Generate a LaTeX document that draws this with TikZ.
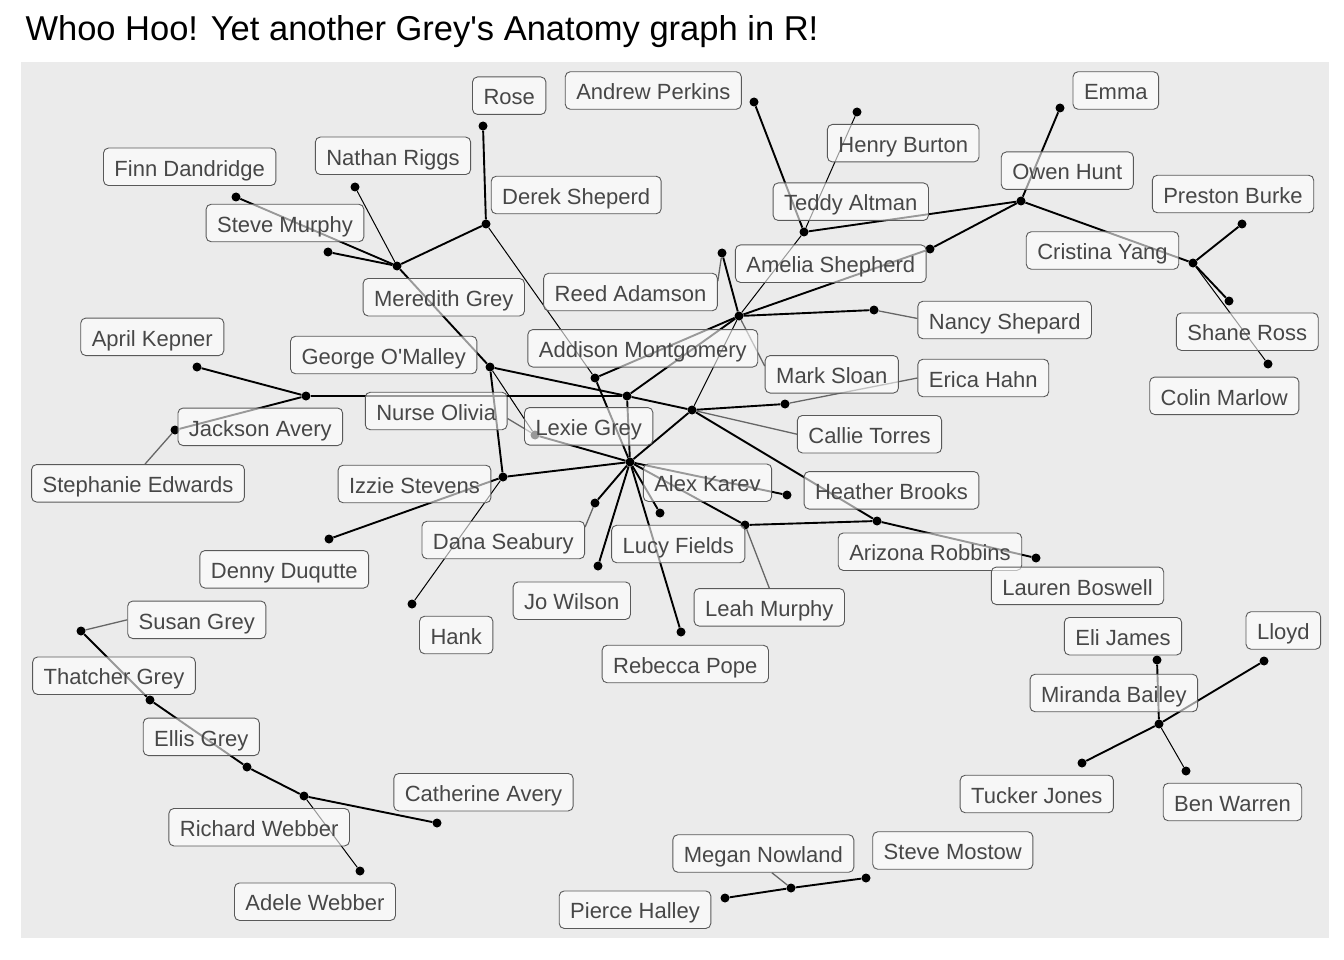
\documentclass[tikz,border=0pt]{standalone}
\usepackage{fontspec}
\setmainfont{Liberation Sans}
\usetikzlibrary{positioning}
\tikzset{
  castpt/.style={circle,fill=black,inner sep=0pt,minimum size=9pt},
  castlabel/.style={rectangle,rounded corners=5pt,draw=black!65,line width=0.9pt,fill=white,fill opacity=0.6,text opacity=1,text=black!72,font=\fontsize{22}{26}\selectfont,inner xsep=11pt,inner ysep=8.5pt,text height=19.5pt,text depth=1pt},
  tie/.style={line width=1.9pt,black},
  tiethin/.style={line width=1pt,black},
  leader/.style={line width=1.3pt,black!60},
}
\pgfdeclarelayer{panel}
\pgfdeclarelayer{back}
\pgfsetlayers{panel,back,main}
\definecolor{panelgrey}{HTML}{EBEBEB}

\begin{document}
\begin{tikzpicture}[x=1pt,y=-1pt]
  \useasboundingbox (0,0) rectangle (1344,960);
  \begin{pgfonlayer}{panel}
    \fill[white] (0,0) rectangle (1344,960);
    \fill[panelgrey] (21,62) rectangle (1329,938);
  \end{pgfonlayer}
  \node[anchor=base west,font=\fontsize{34.5}{40}\selectfont] (title) at (22,41) {Whoo Hoo! Yet another Grey\textquotesingle s Anatomy graph in R!};
  % cast members
  \foreach \n/\x/\y in {finn/236/197, nathan/355/187, murphy/328/252, meredith/397/266,
      rose/483/126, derek/486/224, andrew/754/102, henry/857/112, teddy/804/232,
      emma/1060/108, owen/1021/201, amelia/930/249, reed/722/253, mark/739/316,
      nancy/874/310, cristina/1193/263, preston/1242/224, shane/1229/301, colin/1268/364,
      april/197/367, jackson/306/396, stephanie/175/430, george/490/367, addison/595/378,
      lexie/627/396, callie/692/410, erica/785/404, alex/630/462, olivia/535/435,
      izzie/503/477, denny/329/539, hank/412/604, dana/595/503, jo/598/566, lucy/660/513,
      rebecca/681/632, heather/787/495, leah/745/525, arizona/877/521, lauren/1036/558,
      susan/81/631, thatcher/150/700, ellis/247/767, richard/304/796, catherine/437/823,
      adele/360/871, eli/1157/660, lloyd/1264/661, miranda/1159/724, tucker/1082/763,
      ben/1186/771, pierce/725/898, megan/791/888, mostow/866/878}
    \node[castpt] (\n) at (\x,\y) {};
  % names
  \foreach \n/\x/\y/\t in {rose/509.2/95.7/Rose, andrew/653.3/90.5/Andrew Perkins,
      emma/1115.8/90.5/Emma, henry/903.2/143.2/Henry Burton, finn/189.7/166.8/Finn Dandridge,
      nathan/393/155.8/Nathan Riggs, derek/576.2/195/Derek Sheperd, owen/1067.3/170.7/Owen Hunt,
      preston/1233/194/Preston Burke, teddy/850.8/201.7/Teddy Altman, murphy/285/223/Steve Murphy,
      amelia/830.8/263.7/Amelia Shepherd, cristina/1102.5/250.5/Cristina Yang,
      reed/630.5/292/Reed Adamson, meredith/443.8/297.2/Meredith Grey,
      nancy/1004.7/320/Nancy Shepard, shane/1247.3/331.7/Shane Ross, april/152.3/336.8/April Kepner,
      george/383.7/355/George O\textquotesingle Malley, addison/642.8/348.3/Addison Montgomery,
      mark/831.8/374.3/Mark Sloan, erica/983.3/378/Erica Hahn, colin/1224.3/395.8/Colin Marlow,
      olivia/436.2/411/Nurse Olivia, jackson/260.3/426.8/Jackson Avery, lexie/588.7/426.3/Lexie Grey,
      callie/869.5/434.2/Callie Torres, stephanie/138/483.3/Stephanie Edwards,
      izzie/414.5/484/Izzie Stevens, alex/707.5/482.7/Alex Karev, heather/891.5/490.3/Heather Brooks,
      dana/503.3/540/Dana Seabury, lucy/678.3/544/Lucy Fields, arizona/930/551.7/Arizona Robbins,
      denny/284.3/569.3/Denny Duqutte, lauren/1077.5/585.8/Lauren Boswell, jo/571.8/600.7/Jo Wilson,
      leah/769.3/607.3/Leah Murphy, hank/456.2/635/Hank, susan/196.8/619.8/Susan Grey,
      eli/1123/636.2/Eli James, lloyd/1283.3/630.5/Lloyd, rebecca/685.3/664/Rebecca Pope,
      thatcher/114/675.7/Thatcher Grey, miranda/1113.8/693/Miranda Bailey, ellis/201.3/736.8/Ellis Grey,
      catherine/483.5/792.2/Catherine Avery, tucker/1036.8/794/Tucker Jones, ben/1232.5/802/Ben Warren,
      richard/259.2/827.2/Richard Webber, megan/763.3/853.5/Megan Nowland,
      mostow/952.8/850.5/Steve Mostow, adele/315/901.7/Adele Webber, pierce/635/909.7/Pierce Halley}
    \node[castlabel] (l-\n) at (\x,\y) {\t};
  \begin{pgfonlayer}{back}
    % relationships
    \foreach \a/\b in {rose/derek, derek/meredith, meredith/murphy, meredith/finn, meredith/george,
        april/jackson, jackson/stephanie, jackson/lexie, george/lexie, lexie/callie, george/izzie,
        izzie/denny, izzie/alex, addison/mark, addison/alex, lexie/mark, lexie/alex, mark/reed,
        mark/nancy, mark/amelia, teddy/andrew, teddy/owen, owen/emma, owen/amelia, owen/cristina,
        cristina/preston, cristina/shane, callie/erica, callie/alex, callie/arizona, alex/heather,
        alex/leah, alex/lucy, alex/rebecca, alex/jo, alex/dana, alex/olivia, leah/arizona,
        arizona/lauren, susan/thatcher, thatcher/ellis, ellis/richard, richard/catherine,
        pierce/megan, megan/mostow, miranda/eli, miranda/lloyd, miranda/tucker}
      \draw[tie] (\a) -- (\b);
    \foreach \a/\b in {derek/addison, meredith/nathan, george/olivia, izzie/hank, mark/callie,
        mark/teddy, teddy/henry, cristina/colin, richard/adele, miranda/ben}
      \draw[tiethin] (\a) -- (\b);
    % label leaders
    \foreach \a/\b in {reed/l-reed.7, mark/l-mark.173, nancy/l-nancy.179, erica/l-erica.west,
        callie/l-callie.west, olivia/l-olivia.-6, stephanie/l-stephanie.70, susan/l-susan.west,
        dana/l-dana.9, leah/l-leah.north, megan/l-megan.-66}
      \draw[leader] (\a) -- (\b);
  \end{pgfonlayer}
\end{tikzpicture}
\end{document}
